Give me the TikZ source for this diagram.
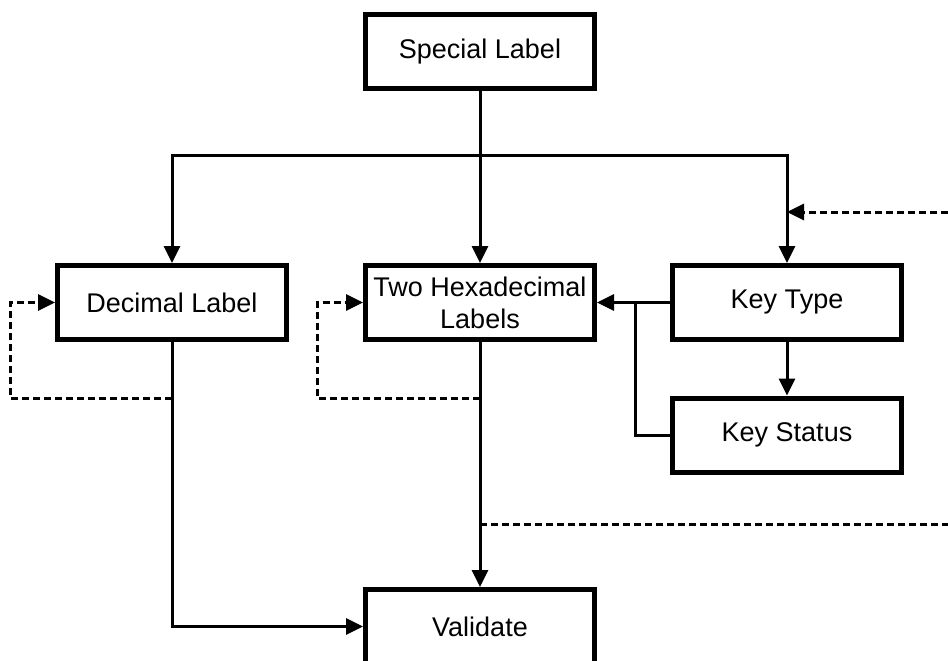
\documentclass[tikz,border=0pt]{standalone}
\usepackage{fontspec}
\setmainfont{Liberation Sans}
\usetikzlibrary{arrows.meta}
\begin{document}
\begin{tikzpicture}[x=1pt,y=-1pt,
  box/.style={draw,line width=5pt,minimum width=229pt,minimum height=74pt,inner sep=2pt,align=center,font=\fontsize{27}{32}\selectfont},
  tip/.style={-{Triangle[length=17pt,width=16pt]}},
  conn/.style={line width=3pt,tip},
  plain/.style={line width=3pt},
  dotline/.style={line width=3pt,dash pattern=on 7pt off 4pt}]
\useasboundingbox (0,0) rectangle (948,661);
\node[box] (sl) at (480,51.5) {Special Label};
\node[box] (dl) at (172,302.5) {Decimal Label};
\node[box] (tw) at (480,302.5) {Two Hexadecimal\\Labels};
\node[box] (kt) at (787,302.5) {Key Type};
\node[box] (ks) at (787,435) {Key Status};
\node[box] (va) at (480,626.5) {Validate};
\coordinate (j) at (480,155);
\coordinate (r1) at (948,212);
\coordinate (b) at (635,302.5);
\coordinate (dlb) at (172,398);
\coordinate (dlx) at (10,398);
\coordinate (twb) at (480,398);
\coordinate (twx) at (317,398);
\coordinate (vb) at (480,524);
\coordinate (r2) at (948,524);
% connectors
\draw[conn] (sl.south) -- (tw.north);
\draw[conn] (j) -| (dl.north);
\draw[conn] (j) -| (kt.north);
\draw[dotline,tip] (r1) -- (r1 -| kt.north);
\draw[conn] (kt.south) -- (ks.north);
\draw[conn] (kt.west) -- (tw.east);
\draw[plain] (ks.west) -| (b);
\draw[conn] (tw.south) -- (va.north);
\draw[conn] (dl.south) |- (va.west);
\draw[dotline,tip] (dlb) -- (dlx) |- (dl.west);
\draw[dotline,tip] (twb) -- (twx) |- (tw.west);
\draw[dotline] (vb) -- (r2);
\end{tikzpicture}
\end{document}
